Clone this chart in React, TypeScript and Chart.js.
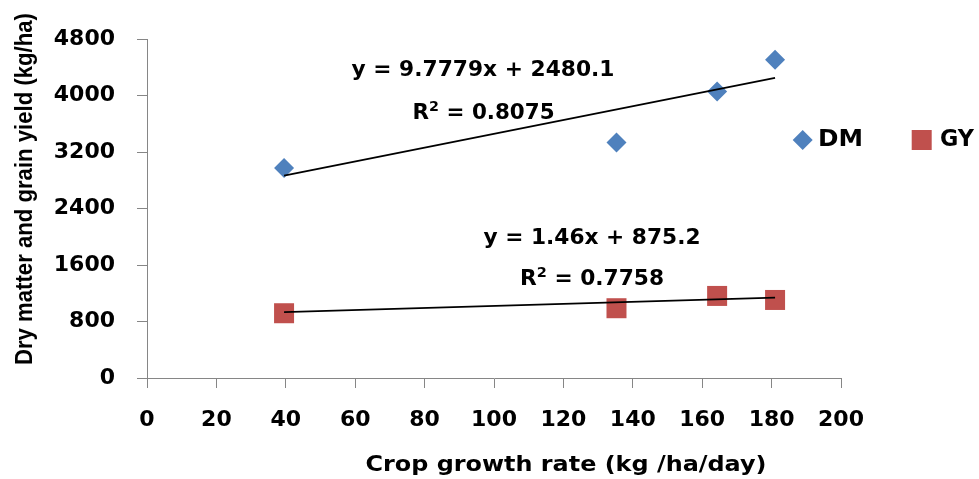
import React, { useEffect, useRef } from "react";
import { Chart, registerables } from "chart.js";

Chart.register(...registerables);

// ---- data ----
const growthRate = [39.5, 135.3, 164.3, 181];
const dmValues = [2972, 3335, 4058, 4507];
const gyValues = [917, 988, 1162, 1105];
const trendX = [39.5, 181];
const dmTrend = [2866, 4250];
const gyTrend = [933, 1139];
const seriesNames = ["DM", "GY"];
const dmEquation = ["y = 9.7779x + 2480.1", "0.8075"];
const gyEquation = ["y = 1.46x + 875.2", "0.7758"];
const xAxisTitle = "Crop growth rate (kg /ha/day)";
const yAxisTitle = "Dry matter and grain yield (kg/ha)";
const xRange = [0, 200, 20];
const yRange = [0, 4800, 800];

const DM_COLOR = "#4F81BD";
const GY_COLOR = "#C0504D";
const AXIS_COLOR = "#868686";
const WIDE = "DejaVu Sans";

type Part = { t: string; font: string; dy: number };

function drawFit(ctx: CanvasRenderingContext2D, parts: Part[], cx: number, cy: number, targetW: number) {
  ctx.save();
  ctx.textBaseline = "middle";
  ctx.textAlign = "left";
  let total = 0;
  const widths = parts.map((p) => {
    ctx.font = p.font;
    const w = ctx.measureText(p.t).width;
    total += w;
    return w;
  });
  const s = targetW / total;
  ctx.translate(cx - targetW / 2, cy);
  ctx.scale(s, 1);
  let x = 0;
  parts.forEach((p, i) => {
    ctx.font = p.font;
    ctx.fillText(p.t, x, p.dy);
    x += widths[i];
  });
  ctx.restore();
}

function rSquared(value: string, size: number): Part[] {
  return [
    { t: "R", font: `bold ${size}px "${WIDE}"`, dy: 0 },
    { t: "2", font: `bold ${Math.round(size * 0.66)}px "${WIDE}"`, dy: -size * 0.3 },
    { t: " = " + value, font: `bold ${size}px "${WIDE}"`, dy: 0 },
  ];
}

const textPlugin = {
  id: "annotText",
  afterDraw(chart: any) {
    const ctx: CanvasRenderingContext2D = chart.ctx;
    ctx.save();
    ctx.fillStyle = "#000";
    // equations
    drawFit(ctx, [{ t: dmEquation[0], font: `bold 21px "${WIDE}"`, dy: 0 }], 483, 71, 263);
    drawFit(ctx, rSquared(dmEquation[1], 21), 483.6, 114, 142);
    drawFit(ctx, [{ t: gyEquation[0], font: `bold 21px "${WIDE}"`, dy: 0 }], 592, 239, 217);
    drawFit(ctx, rSquared(gyEquation[1], 21), 592, 280, 144);
    // x axis title
    drawFit(ctx, [{ t: xAxisTitle, font: `bold 22px "${WIDE}"`, dy: 0 }], 566, 465, 401);
    // y axis title
    ctx.save();
    ctx.translate(25.5, 189);
    ctx.rotate(-Math.PI / 2);
    drawFit(ctx, [{ t: yAxisTitle, font: `bold 23px "Liberation Sans"`, dy: 0 }], 0, 0, 352);
    ctx.restore();
    // legend
    ctx.fillStyle = DM_COLOR;
    ctx.beginPath();
    ctx.moveTo(802.7, 130);
    ctx.lineTo(812.7, 140);
    ctx.lineTo(802.7, 150);
    ctx.lineTo(792.7, 140);
    ctx.closePath();
    ctx.fill();
    ctx.fillStyle = GY_COLOR;
    ctx.fillRect(911.7, 130, 20, 20);
    ctx.fillStyle = "#000";
    drawFit(ctx, [{ t: seriesNames[0], font: `bold 23px "${WIDE}"`, dy: 0 }], 818 + 22.5, 140, 45);
    drawFit(ctx, [{ t: seriesNames[1], font: `bold 23px "${WIDE}"`, dy: 0 }], 940 + 17, 140, 34);
    ctx.restore();
  },
};

export default function App() {
  const ref = useRef<HTMLCanvasElement | null>(null);
  useEffect(() => {
    if (!ref.current) return;
    const chart = new Chart(ref.current, {
      type: "scatter",
      data: {
        datasets: [
          {
            label: "DM trend",
            data: trendX.map((x, i) => ({ x, y: dmTrend[i] })),
            showLine: true,
            borderColor: "#000",
            borderWidth: 1.8,
            pointRadius: 0,
          },
          {
            label: "GY trend",
            data: trendX.map((x, i) => ({ x, y: gyTrend[i] })),
            showLine: true,
            borderColor: "#000",
            borderWidth: 1.8,
            pointRadius: 0,
          },
          {
            label: seriesNames[0],
            data: growthRate.map((x, i) => ({ x, y: dmValues[i] })),
            pointStyle: "rectRot",
            pointRadius: 10,
            backgroundColor: DM_COLOR,
            borderColor: DM_COLOR,
            borderWidth: 0,
          },
          {
            label: seriesNames[1],
            data: growthRate.map((x, i) => ({ x, y: gyValues[i] })),
            pointStyle: "rect",
            pointRadius: 14.14,
            backgroundColor: GY_COLOR,
            borderColor: GY_COLOR,
            borderWidth: 0,
          },
        ],
      },
      options: {
        responsive: false,
        animation: false,
        devicePixelRatio: 1,
        layout: { padding: { left: 0, right: 138, top: 39, bottom: 0 } },
        plugins: { legend: { display: false }, tooltip: { enabled: false } },
        scales: {
          x: {
            type: "linear",
            min: xRange[0],
            max: xRange[1],
            ticks: {
              stepSize: xRange[2],
              color: "#000",
              padding: 19,
              font: { family: WIDE, size: 22, weight: "bold" },
              callback: (v: any) => String(v),
            },
            grid: { display: true, drawOnChartArea: false, drawTicks: true, tickLength: 10, color: AXIS_COLOR },
            border: { display: true, color: AXIS_COLOR, width: 1 },
            afterFit: (scale: any) => {
              scale.height = 101;
            },
          },
          y: {
            type: "linear",
            min: yRange[0],
            max: yRange[1],
            ticks: {
              stepSize: yRange[2],
              color: "#000",
              padding: 22,
              font: { family: WIDE, size: 22, weight: "bold" },
              callback: (v: any) => String(v),
            },
            grid: { display: true, drawOnChartArea: false, drawTicks: true, tickLength: 10, color: AXIS_COLOR },
            border: { display: true, color: AXIS_COLOR, width: 1 },
            afterFit: (scale: any) => {
              scale.width = 147;
            },
          },
        },
      },
      plugins: [textPlugin],
    } as any);
    return () => chart.destroy();
  }, []);
  return (
    <canvas
      ref={ref}
      width={979}
      height={479}
      style={{ position: "absolute", left: 0, top: 0, width: 979, height: 479, display: "block" }}
    />
  );
}
